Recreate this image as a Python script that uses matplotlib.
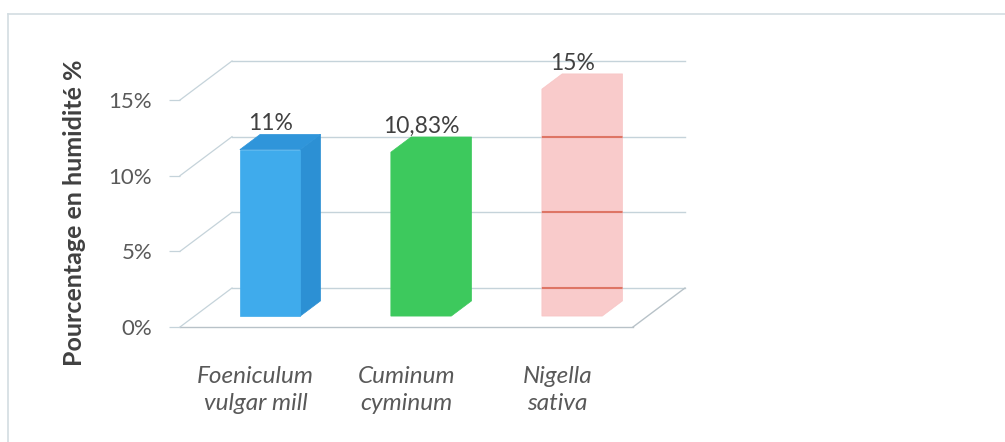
import matplotlib
matplotlib.use("Agg")
import matplotlib.pyplot as plt
from matplotlib.patches import Polygon
from matplotlib.ticker import FuncFormatter

plt.rcParams['font.family'] = ['Lato', 'DejaVu Sans']

# moisture content per species
species = ["Foeniculum\nvulgar mill", "Cuminum\ncyminum", "Nigella\nsativa"]
humidity = [11.0, 10.83, 15.0]
value_labels = ["11%", "10,83%", "15%"]
yticks = [0, 5, 10, 15]

# face colours: front, side, top
front_cols = ["#3fabec", "#3dc95d", "#f8c2c2"]
side_cols = ["#2c90d4", "#3dc95d", "#f8c2c2"]
top_cols = ["#2f95da", "#3dc95d", "#f8c2c2"]
translucent = [False, False, True]

W, H = 1005, 442
fig = plt.figure(figsize=(W / 100, H / 100), dpi=100)
fig.patch.set_facecolor("white")

# axes spans the front edge of the floor; the back wall sits behind it
ax = fig.add_axes([180 / W, (H - 327) / H, 453 / W, 227 / H])
ax.set_xlim(0, 3)
ax.set_ylim(0, 15)
ax.patch.set_alpha(0)
for s in ax.spines.values():
    s.set_visible(False)

# oblique depth of the floor, in data units
ddx = 52 / 151
ddy = 39 * 15 / 227
d0, d1 = 0.28, 0.67
bw = 0.4
grid_c = "#c5d3da"

# back wall gridlines and left wall diagonals
for t in yticks:
    ax.plot([ddx, 3 + ddx], [t + ddy, t + ddy], color=grid_c, lw=1.0, clip_on=False, zorder=1)
    ax.plot([0, ddx], [t, t + ddy], color=grid_c, lw=0.9, clip_on=False, zorder=1)
# floor outline
ax.plot([0, 3], [0, 0], color="#b8c2c8", lw=1.0, clip_on=False, zorder=1)
ax.plot([3, 3 + ddx], [0, ddy], color="#b8c2c8", lw=1.0, clip_on=False, zorder=1)

for i, v in enumerate(humidity):
    x0 = i + 0.5 - bw / 2 + d0 * ddx
    x1 = x0 + bw
    y0 = d0 * ddy
    ox, oy = (d1 - d0) * ddx, (d1 - d0) * ddy
    if front_cols[i] == side_cols[i] == top_cols[i]:
        # single-colour bar: draw the outline of the box as one shape
        hexa = [(x0, y0), (x1, y0), (x1 + ox, y0 + oy), (x1 + ox, y0 + oy + v),
                (x0 + ox, y0 + oy + v), (x0, y0 + v)]
        faces = [(hexa, front_cols[i])]
    else:
        front = [(x0, y0), (x1, y0), (x1, y0 + v), (x0, y0 + v)]
        side = [(x1, y0), (x1 + ox, y0 + oy), (x1 + ox, y0 + oy + v), (x1, y0 + v)]
        top = [(x0, y0 + v), (x1, y0 + v), (x1 + ox, y0 + oy + v), (x0 + ox, y0 + oy + v)]
        faces = [(side, side_cols[i]), (top, top_cols[i]), (front, front_cols[i])]
    for pts, c in faces:
        p = Polygon(pts, closed=True, facecolor=c, edgecolor=c, lw=0.5,
                    alpha=0.85 if translucent[i] else 1.0, clip_on=False, zorder=3)
        ax.add_patch(p)
        if translucent[i]:
            # wall gridlines showing through the translucent bar
            for t in yticks[:-1]:
                ln, = ax.plot([ddx, 3 + ddx], [t + ddy, t + ddy], color="#de7565",
                              lw=1.5, zorder=4)
                ln.set_clip_path(p)
    ax.text(i + 0.5 + d0 * ddx, v + d1 * ddy, value_labels[i],
            ha="center", va="bottom", fontsize=16.5, color="#404040", zorder=5)

ax.set_yticks(yticks)
ax.yaxis.set_major_formatter(FuncFormatter(lambda v, _: f"{v:.0f}%"))
ax.tick_params(axis="y", length=8, width=0.9, color=grid_c, labelsize=16,
               labelcolor="#595959", pad=12)
ax.set_xticks([0.5, 1.5, 2.5])
ax.set_xticklabels(species, fontsize=17.5, style="italic", color="#595959",
                   linespacing=1.35)
ax.tick_params(axis="x", length=0, pad=28)

fig.text(75 / W, 1 - 213 / H, "Pourcentage en humidité %", rotation=90,
         ha="center", va="center", fontsize=18, fontweight="bold", color="#404040")

# outer chart frame
fig.add_artist(plt.Line2D([8 / W, 1], [1 - 14 / H, 1 - 14 / H], color="#d3dde2", lw=1.2))
fig.add_artist(plt.Line2D([8 / W, 8 / W], [0, 1 - 14 / H], color="#d3dde2", lw=1.2))

fig.savefig("out.png", dpi=100)
